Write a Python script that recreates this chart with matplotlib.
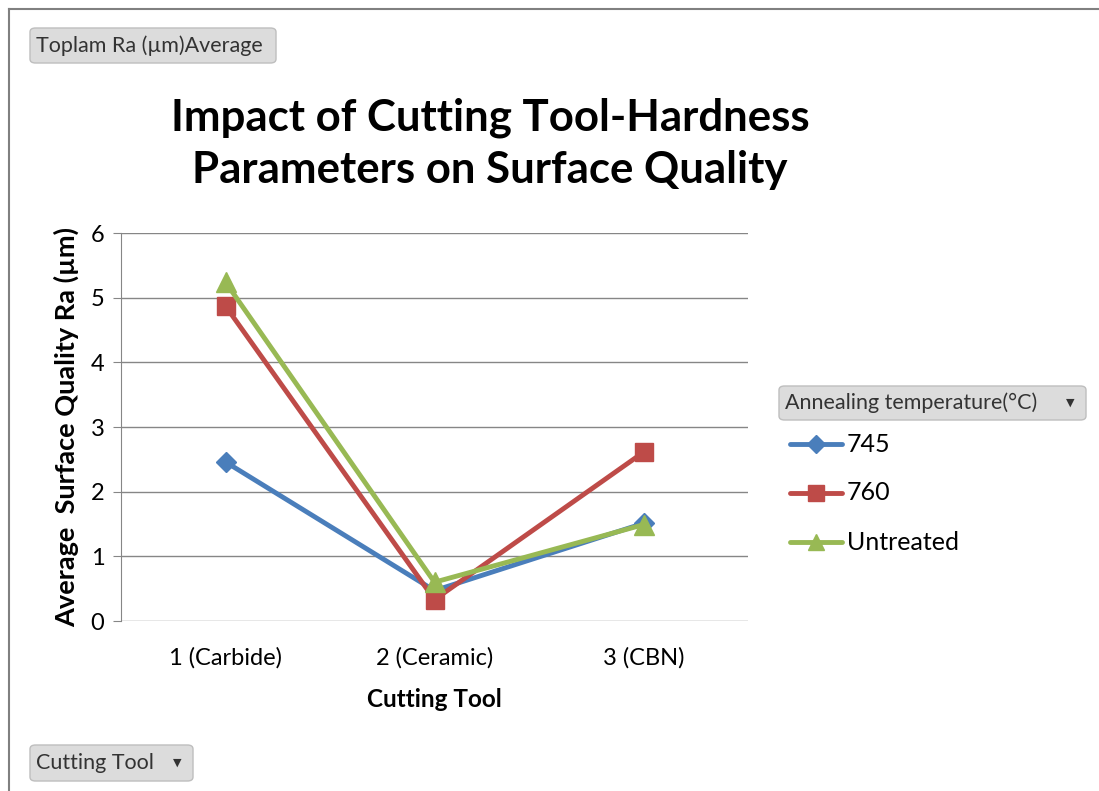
import matplotlib
matplotlib.use("Agg")
import matplotlib.pyplot as plt
from matplotlib.patches import FancyBboxPatch
from matplotlib.lines import Line2D

categories = ["1 (Carbide)", "2 (Ceramic)", "3 (CBN)"]
series_names = ["745", "760", "Untreated"]
s745 = [2.46, 0.47, 1.51]
s760 = [4.87, 0.33, 2.61]
untreated = [5.24, 0.60, 1.49]
y_ticks = [0, 1, 2, 3, 4, 5, 6]

colors = ["#4A7EBB", "#BE4B48", "#98B954"]
markers = ["D", "s", "^"]
msizes = [10, 13, 14]

plt.rcParams['font.family'] = ['Lato', 'DejaVu Sans']

W, H = 1099, 791
fig = plt.figure(figsize=(W / 100, H / 100), dpi=100)

def fx(x):
    return x / W

def fy(y):
    return 1 - y / H

# outer frame (left and top edges)
fig.add_artist(Line2D([fx(9), fx(9)], [fy(9), fy(791)], color="#808080", lw=1.5))
fig.add_artist(Line2D([fx(9), fx(1099)], [fy(9), fy(9)], color="#808080", lw=1.5))

ax = fig.add_axes([fx(121), fy(621), fx(748) - fx(121), fy(233) - fy(621)])
x = list(range(len(categories)))
for vals, name, c, m, ms in zip([s745, s760, untreated], series_names, colors, markers, msizes):
    ax.plot(x, vals, color=c, lw=3.5, marker=m, markersize=ms, label=name,
            solid_capstyle="round", zorder=3)

ax.set_xlim(-0.5, 2.5)
ax.set_ylim(0, 6)
ax.set_yticks(y_ticks)
ax.set_xticks(x)
ax.set_xticklabels(categories, fontsize=17)
ax.tick_params(axis="y", labelsize=17, length=6, color="#868686", pad=6)
ax.tick_params(axis="x", length=0, pad=19)
ax.grid(axis="y", color="#868686", lw=1)
ax.set_axisbelow(True)
for s in ["top", "right", "bottom"]:
    ax.spines[s].set_visible(False)
ax.spines["left"].set_color("#868686")
ax.set_xlabel("Cutting Tool", fontsize=17.5, fontweight="bold", labelpad=14)
ax.set_ylabel("Average  Surface Quality Ra (µm)", fontsize=19.5, fontweight="bold", labelpad=8)

fig.text(fx(490), fy(144), "Impact of Cutting Tool-Hardness\nParameters on Surface Quality",
         ha="center", va="center", fontsize=31.5, fontweight="bold", linespacing=1.35)

def button(x0, y0, x1, y1, label, arrow=False):
    p = FancyBboxPatch((fx(x0), fy(y1)), fx(x1) - fx(x0), fy(y0) - fy(y1),
                       boxstyle="round,pad=0,rounding_size=0.005",
                       transform=fig.transFigure, facecolor="#DCDCDC",
                       edgecolor="#BEBEBE", lw=1)
    fig.add_artist(p)
    fig.text(fx(x0 + 6), fy((y0 + y1) / 2), label, ha="left", va="center",
             fontsize=15.5, color="#333333")
    if arrow:
        fig.text(fx(x1 - 16), fy((y0 + y1) / 2), "▼", ha="center", va="center",
                 fontsize=8, color="#333333", family="DejaVu Sans")

button(30, 28, 276, 63, "Toplam Ra (µm)Average")
button(30, 745, 193, 781, "Cutting Tool", arrow=True)
button(779, 386, 1086, 420, "Annealing temperature(°C)", arrow=True)

# legend entries
for i, (name, c, m) in enumerate(zip(series_names, colors, markers)):
    yy = 444 + i * 49
    fig.add_artist(Line2D([fx(790), fx(842)], [fy(yy), fy(yy)], color=c, lw=3.5,
                          solid_capstyle="round"))
    fig.add_artist(Line2D([fx(816)], [fy(yy)], color=c, lw=0, marker=m,
                          markersize=[9, 11, 11][i]))
    fig.text(fx(847), fy(yy), name, ha="left", va="center", fontsize=18)

fig.savefig("out.png", dpi=100)
